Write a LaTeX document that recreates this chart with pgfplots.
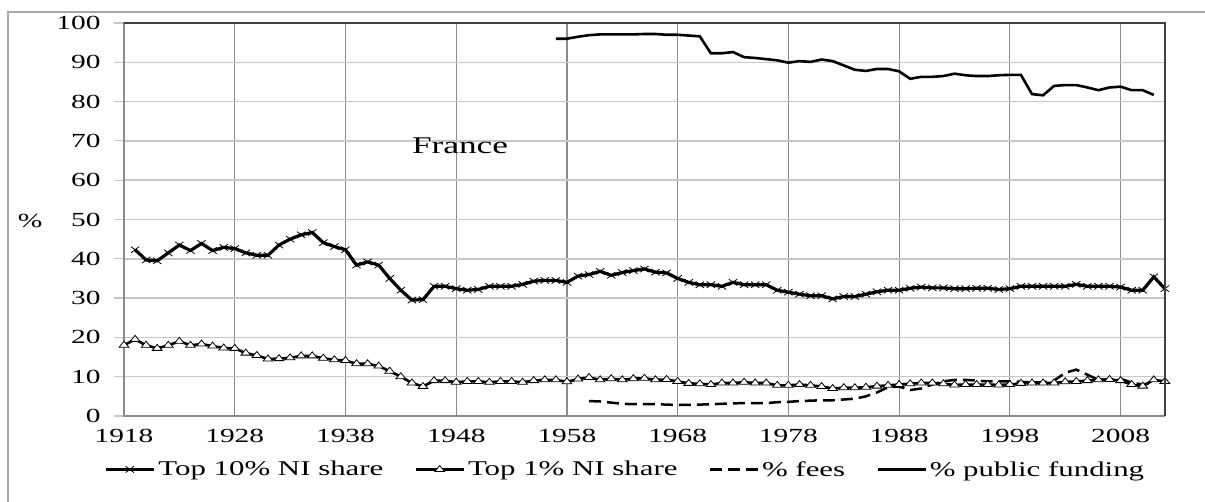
\documentclass[border=0pt]{standalone}
\usepackage{fontspec}
\setmainfont{Liberation Serif}[FakeStretch=1.47]
\usepackage{pgfplots}
\pgfplotsset{compat=1.18}
\definecolor{vgrid}{HTML}{8C8C8C}
\definecolor{hgrid}{HTML}{C8C8C8}
\definecolor{frame}{HTML}{A6A6A6}
\begin{document}
\begin{tikzpicture}
\begin{axis}[
  name=ax, at={(0pt,0pt)}, anchor=south west,
  scale only axis, width=1041pt, height=393pt,
  xmin=1918, xmax=2012, ymin=0, ymax=100,
  xtick={1918,1928,...,2008}, ytick={0,10,...,100},
  /pgf/number format/assume math mode=true,
  /pgf/number format/1000 sep={},
  tick label style={font=\fontsize{20}{23}\selectfont},
  yticklabel style={xshift=-10pt},
  tick align=outside, major tick length=10pt,
  ytick pos=left, xtick pos=bottom,
  x tick style={draw=none},
  y tick style={hgrid, line width=1.2pt},
  xmajorgrids, ymajorgrids,
  x grid style={vgrid, line width=1.2pt},
  y grid style={hgrid, line width=1.5pt},
  axis line style={vgrid, line width=1.2pt},
  clip=false,
  ylabel={\%},
  ylabel style={rotate=-90, font=\fontsize{20}{24}\selectfont, at={(axis description cs:-0.0903,0.496)}, anchor=center},
  legend columns=4,
  legend style={draw=none, fill=none, font=\fontsize{21}{24}\selectfont,
    at={(axis description cs:0.482,-0.136)}, anchor=center, inner sep=0pt,
    nodes={inner xsep=3pt, inner ysep=0pt},
    /tikz/every even column/.append style={column sep=28pt}},
  legend image code/.code={\draw[#1, mark repeat=2, mark phase=2] plot coordinates {(0pt,0pt) (24pt,0pt) (48pt,0pt)};},
]
\addplot[black, line width=3.2pt, mark=x, mark size=4.5pt, mark options={solid, line width=0.8pt, xscale=1.3}] coordinates {
(1919,42.3)(1920,39.7)(1921,39.5)(1922,41.5)(1923,43.5)(1924,42.1)(1925,43.9)(1926,42.1)(1927,42.9)(1928,42.6)
(1929,41.5)(1930,40.9)(1931,40.9)(1932,43.5)(1933,45.0)(1934,46.1)(1935,46.7)(1936,44.1)(1937,43.1)(1938,42.3)
(1939,38.4)(1940,39.2)(1941,38.4)(1942,35.0)(1943,32.0)(1944,29.5)(1945,29.6)(1946,33.0)(1947,33.0)(1948,32.4)
(1949,32.0)(1950,32.2)(1951,33.0)(1952,33.0)(1953,33.0)(1954,33.5)(1955,34.3)(1956,34.5)(1957,34.5)(1958,34.0)
(1959,35.6)(1960,36.0)(1961,36.8)(1962,35.8)(1963,36.5)(1964,37.0)(1965,37.4)(1966,36.6)(1967,36.4)(1968,35.0)
(1969,34.0)(1970,33.4)(1971,33.4)(1972,33.0)(1973,34.0)(1974,33.4)(1975,33.4)(1976,33.4)(1977,32.0)(1978,31.5)
(1979,31.0)(1980,30.6)(1981,30.6)(1982,29.8)(1983,30.4)(1984,30.4)(1985,31.0)(1986,31.6)(1987,32.0)(1988,32.0)
(1989,32.5)(1990,32.8)(1991,32.6)(1992,32.6)(1993,32.4)(1994,32.4)(1995,32.5)(1996,32.5)(1997,32.2)(1998,32.4)
(1999,33.0)(2000,33.0)(2001,33.0)(2002,33.0)(2003,33.0)(2004,33.5)(2005,33.0)(2006,33.0)(2007,33.0)(2008,32.8)
(2009,32.0)(2010,32.0)(2011,35.4)(2012,32.4)
};
\addlegendentry{Top 10\% NI share}
\addplot[black, line width=2.6pt, mark=triangle*, mark size=4pt, mark options={solid, fill=white, draw=black, line width=0.8pt, xscale=1.4}] coordinates {
(1918,18.0)(1919,19.5)(1920,18.0)(1921,17.2)(1922,18.0)(1923,19.0)(1924,18.0)(1925,18.3)(1926,17.8)(1927,17.3)
(1928,17.2)(1929,16.0)(1930,15.4)(1931,14.5)(1932,14.6)(1933,14.8)(1934,15.3)(1935,15.3)(1936,14.7)(1937,14.3)
(1938,14.1)(1939,13.3)(1940,13.3)(1941,12.7)(1942,11.4)(1943,10.0)(1944,8.4)(1945,7.5)(1946,9.0)(1947,9.0)
(1948,8.6)(1949,8.8)(1950,8.8)(1951,8.6)(1952,8.8)(1953,8.8)(1954,8.6)(1955,9.0)(1956,9.2)(1957,9.2)
(1958,8.7)(1959,9.4)(1960,9.8)(1961,9.2)(1962,9.5)(1963,9.2)(1964,9.5)(1965,9.6)(1966,9.2)(1967,9.3)
(1968,8.8)(1969,8.3)(1970,8.2)(1971,8.0)(1972,8.4)(1973,8.4)(1974,8.6)(1975,8.4)(1976,8.4)(1977,7.8)
(1978,7.8)(1979,8.0)(1980,7.8)(1981,7.5)(1982,7.0)(1983,7.2)(1984,7.2)(1985,7.3)(1986,7.6)(1987,7.8)
(1988,8.0)(1989,8.2)(1990,8.4)(1991,8.4)(1992,8.2)(1993,7.9)(1994,8.0)(1995,8.0)(1996,8.0)(1997,7.9)
(1998,8.0)(1999,8.3)(2000,8.4)(2001,8.4)(2002,8.4)(2003,8.7)(2004,8.8)(2005,9.0)(2006,9.2)(2007,9.3)
(2008,9.0)(2009,8.0)(2010,7.6)(2011,9.2)(2012,8.8)
};
\addlegendentry{Top 1\% NI share}
\addplot[black, line width=2.5pt, dash pattern=on 12pt off 6pt] coordinates {
(1960,3.8)(1961,3.7)(1962,3.4)(1963,3.1)(1964,3.0)(1965,3.0)(1966,3.0)(1967,2.9)(1968,2.8)(1969,2.8)
(1970,2.9)(1971,3.0)(1972,3.1)(1973,3.2)(1974,3.3)(1975,3.3)(1976,3.3)(1977,3.5)(1978,3.6)(1979,3.8)
(1980,3.9)(1981,4.0)(1982,4.0)(1983,4.2)(1984,4.4)(1985,5.0)(1986,6.0)(1987,7.3)(1988,7.5)(1989,6.6)
(1990,7.0)(1991,8.0)(1992,8.8)(1993,9.2)(1994,9.2)(1995,9.0)(1996,8.8)(1997,8.8)(1998,8.8)(1999,8.7)
(2000,8.5)(2001,8.6)(2002,9.0)(2003,11.0)(2004,11.8)(2005,10.5)(2006,9.2)(2007,9.3)(2008,9.5)(2009,8.5)
(2010,8.0)(2011,8.5)
};
\addlegendentry{\% fees}
\addplot[black, line width=2.6pt] coordinates {
(1957,96.0)(1958,96.0)(1959,96.5)(1960,96.9)(1961,97.1)(1962,97.1)(1963,97.1)(1964,97.1)(1965,97.2)(1966,97.2)
(1967,97.0)(1968,97.0)(1969,96.8)(1970,96.6)(1971,92.3)(1972,92.3)(1973,92.6)(1974,91.3)(1975,91.1)(1976,90.8)
(1977,90.5)(1978,89.9)(1979,90.3)(1980,90.1)(1981,90.7)(1982,90.3)(1983,89.2)(1984,88.1)(1985,87.8)(1986,88.3)
(1987,88.3)(1988,87.7)(1989,85.8)(1990,86.3)(1991,86.3)(1992,86.5)(1993,87.1)(1994,86.7)(1995,86.5)(1996,86.5)
(1997,86.7)(1998,86.8)(1999,86.8)(2000,81.9)(2001,81.6)(2002,84.0)(2003,84.2)(2004,84.2)(2005,83.6)(2006,82.9)
(2007,83.6)(2008,83.8)(2009,82.9)(2010,82.9)(2011,81.7)
};
\addlegendentry{\% public funding}
\node[font=\fontsize{24}{28}\selectfont] at (axis cs:1948.35,68.7) {France};
\end{axis}
\draw[black!75, line width=1.5pt] (ax.north west) -- (ax.north east) -- (ax.south east);
\draw[frame, line width=1.2pt] (-116pt,-120pt) -- (-116pt,404pt) -- (1250pt,404pt);
\pgfresetboundingbox
\useasboundingbox (-124pt,-86pt) rectangle (1081pt,416pt);
\end{tikzpicture}
\end{document}
